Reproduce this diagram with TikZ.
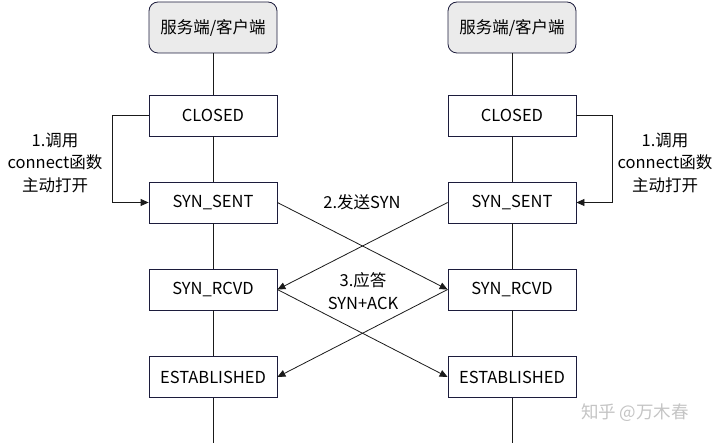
\documentclass[tikz,border=0pt]{standalone}
\usepackage{fontspec}
\setmainfont{Noto Sans CJK SC}
\usetikzlibrary{arrows.meta}
\definecolor{boxc}{HTML}{1C1C3C}
\definecolor{headc}{HTML}{EBEBEB}
\definecolor{linec}{HTML}{1A1A1A}
\definecolor{wmc}{HTML}{C4C4C4}
\begin{document}
\begin{tikzpicture}[x=1pt,y=-1pt,
  state/.style={draw=boxc, line width=0.8pt, fill=white, minimum width=128pt, minimum height=41pt, inner sep=0pt, font=\fontsize{16.5}{19}\selectfont},
  head/.style={state, rounded corners=9pt, fill=headc, minimum height=51pt},
  conn/.style={draw=linec, line width=0.8pt},
  arr/.style={conn, -{Triangle[length=8pt,width=7pt]}},
  lbl/.style={align=center, inner sep=0pt, font=\fontsize{16.5}{22.5}\selectfont}]
\useasboundingbox (0,0) rectangle (720,443);
% left column
\node[head]  (hL) at (213,27.5) {服务端/客户端};
\node[state] (cL) at (213,115.5) {CLOSED};
\node[state] (sL) at (213,202.5) {SYN\_SENT};
\node[state] (rL) at (213,289.5) {SYN\_RCVD};
\node[state] (eL) at (213,377) {ESTABLISHED};
\coordinate (bL) at (213,443);
% right column
\node[head]  (hR) at (512,27.5) {服务端/客户端};
\node[state] (cR) at (512,115.5) {CLOSED};
\node[state] (sR) at (512,202.5) {SYN\_SENT};
\node[state] (rR) at (512,289.5) {SYN\_RCVD};
\node[state] (eR) at (512,377) {ESTABLISHED};
\coordinate (bR) at (512,443);
% lifelines
\foreach \s in {L,R}{
  \draw[conn] (h\s.south) -- (c\s.north);
  \draw[conn] (c\s.south) -- (s\s.north);
  \draw[conn] (s\s.south) -- (r\s.north);
  \draw[conn] (r\s.south) -- (e\s.north);
  \draw[conn] (e\s.south) -- (b\s);
}
% active open loops
\draw[arr] (cL.west) -- ++(-36,0) |- (sL.west);
\draw[arr] (cR.east) -- ++(36,0) |- (sR.east);
% crossing messages
\draw[arr] (sL.east) -- (rR.west);
\draw[arr] (sR.west) -- (rL.east);
\draw[arr] (rL.east) -- (eR.west);
\draw[arr] (rR.west) -- (eL.east);
% labels
\node[lbl] (l1L) at (55,162.5) {1.调用\\connect函数\\主动打开};
\node[lbl] (l1R) at (665,162.5) {1.调用\\connect函数\\主动打开};
\node[lbl] (l2) at (362,202) {2.发送SYN};
\node[lbl] (l3) at (363,291) {3.应答\\SYN+ACK};
% watermark
\node[text=wmc, inner sep=0pt, font=\fontsize{17.5}{20}\selectfont] (wm) at (635,413) {知乎 @万木春};
\end{tikzpicture}
\end{document}
